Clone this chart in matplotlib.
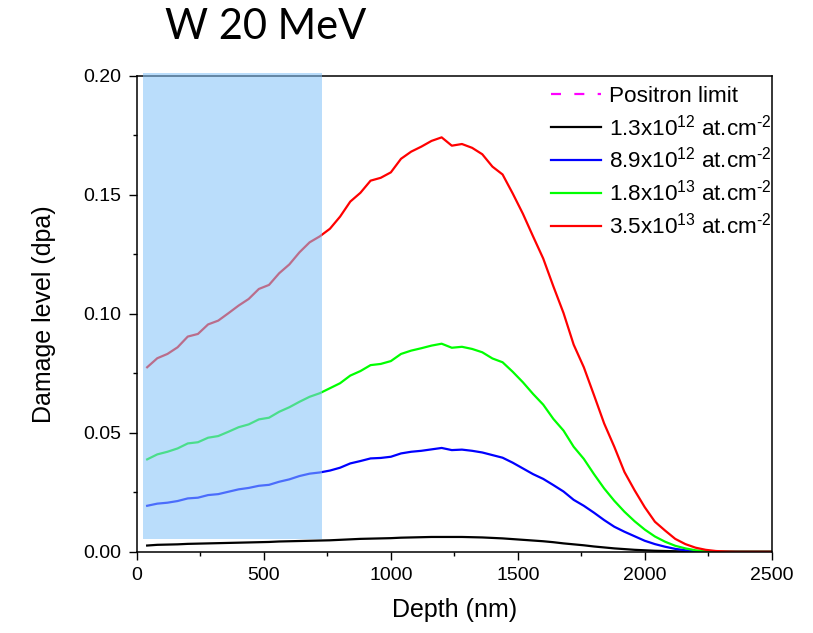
import matplotlib
matplotlib.use("Agg")
import matplotlib.pyplot as plt
from matplotlib.patches import Rectangle
from matplotlib.lines import Line2D
from matplotlib.ticker import MultipleLocator, FormatStrFormatter

plt.rcParams['font.family'] = ['Liberation Sans', 'DejaVu Sans']
plt.rcParams['mathtext.fontset'] = 'custom'
plt.rcParams['mathtext.rm'] = 'Liberation Sans'
plt.rcParams['mathtext.it'] = 'Liberation Sans:italic'
plt.rcParams['mathtext.bf'] = 'Liberation Sans:bold'

title = "W 20 MeV"
x_label = "Depth (nm)"
y_label = "Damage level (dpa)"

depth = [40, 80, 120, 160, 200, 240, 280, 320, 360, 400,
         440, 480, 520, 560, 600, 640, 680, 720, 760, 800,
         840, 880, 920, 960, 1000, 1040, 1080, 1120, 1160, 1200,
         1240, 1280, 1320, 1360, 1400, 1440, 1480, 1520, 1560, 1600,
         1640, 1680, 1720, 1760, 1800, 1840, 1880, 1920, 1960, 2000,
         2040, 2080, 2120, 2160, 2200, 2240, 2280, 2320, 2360, 2400,
         2440, 2480, 2500]

dpa_1_3e12 = [0.0026, 0.0029, 0.0030, 0.0031, 0.0033, 0.0034, 0.0035, 0.0036, 0.0037, 0.0038,
              0.0039, 0.0040, 0.0041, 0.0043, 0.0044, 0.0045, 0.0046, 0.0047, 0.0048, 0.0050,
              0.0052, 0.0054, 0.0055, 0.0056, 0.0057, 0.0059, 0.0060, 0.0061, 0.0062, 0.0062,
              0.0062, 0.0062, 0.0061, 0.0060, 0.0058, 0.0056, 0.0053, 0.0050, 0.0047, 0.0044,
              0.0040, 0.0035, 0.0031, 0.0027, 0.0022, 0.0018, 0.0014, 0.0011, 0.0008, 0.0006,
              0.0004, 0.0003, 0.0002, 0.0001, 0.0001, 0.0, 0.0, 0.0, 0.0, 0.0,
              0.0, 0.0, 0.0]

dpa_8_9e12 = [0.0193, 0.0202, 0.0206, 0.0213, 0.0224, 0.0227, 0.0238, 0.0242, 0.0252, 0.0262,
              0.0268, 0.0277, 0.0281, 0.0294, 0.0304, 0.0318, 0.0328, 0.0333, 0.0341, 0.0353,
              0.0371, 0.0381, 0.0392, 0.0394, 0.0399, 0.0413, 0.0420, 0.0424, 0.0430, 0.0436,
              0.0427, 0.0429, 0.0424, 0.0417, 0.0406, 0.0395, 0.0374, 0.0350, 0.0326, 0.0306,
              0.0280, 0.0253, 0.0218, 0.0193, 0.0164, 0.0133, 0.0105, 0.0084, 0.0065, 0.0046,
              0.0032, 0.0021, 0.0012, 0.0006, 0.0002, 0.0001, 0.0, 0.0, 0.0, 0.0,
              0.0, 0.0, 0.0]

dpa_1_8e13 = [0.0388, 0.0409, 0.0420, 0.0434, 0.0455, 0.0460, 0.0479, 0.0486, 0.0504, 0.0523,
              0.0535, 0.0556, 0.0563, 0.0588, 0.0607, 0.0630, 0.0651, 0.0666, 0.0687, 0.0708,
              0.0740, 0.0759, 0.0784, 0.0789, 0.0801, 0.0831, 0.0845, 0.0855, 0.0866, 0.0874,
              0.0857, 0.0861, 0.0852, 0.0838, 0.0812, 0.0796, 0.0756, 0.0712, 0.0663, 0.0618,
              0.0558, 0.0509, 0.0441, 0.0390, 0.0326, 0.0266, 0.0214, 0.0168, 0.0128, 0.0093,
              0.0064, 0.0042, 0.0025, 0.0014, 0.0006, 0.0002, 0.0001, 0.0, 0.0, 0.0,
              0.0, 0.0, 0.0]

dpa_3_5e13 = [0.0775, 0.0813, 0.0831, 0.0859, 0.0904, 0.0915, 0.0955, 0.0971, 0.1002, 0.1034,
              0.1062, 0.1104, 0.1121, 0.1170, 0.1207, 0.1258, 0.1300, 0.1325, 0.1357, 0.1408,
              0.1471, 0.1508, 0.1559, 0.1571, 0.1594, 0.1651, 0.1681, 0.1702, 0.1726, 0.1741,
              0.1706, 0.1713, 0.1697, 0.1670, 0.1618, 0.1585, 0.1505, 0.1420, 0.1325, 0.1232,
              0.1115, 0.1003, 0.0870, 0.0775, 0.0658, 0.0539, 0.0441, 0.0335, 0.0258, 0.0187,
              0.0126, 0.0089, 0.0054, 0.0032, 0.0017, 0.0008, 0.0003, 0.0001, 0.0, 0.0,
              0.0, 0.0, 0.0]

series_labels = [r"1.3x10$^{12}$ at.cm$^{\text{-}2}$",
                 r"8.9x10$^{12}$ at.cm$^{\text{-}2}$",
                 r"1.8x10$^{13}$ at.cm$^{\text{-}2}$",
                 r"3.5x10$^{13}$ at.cm$^{\text{-}2}$"]
series_values = [dpa_1_3e12, dpa_8_9e12, dpa_1_8e13, dpa_3_5e13]
series_colors = ["#000000", "#0000FF", "#00FF00", "#FF0000"]

limit_label = "Positron limit"
shade_x = [25, 728]
shade_y = [0.0053, 0.201]

fig = plt.figure(figsize=(8.13, 6.33), dpi=100)
ax = fig.add_axes([0.1685, 0.1284, 0.7807, 0.7520])

handles = []
h_lim = Line2D([], [], color="#FF00FF", lw=1.6, linestyle=(0, (4.5, 6)))
handles.append(h_lim)
for vals, col, lab in zip(series_values, series_colors, series_labels):
    ln, = ax.plot(depth, vals, color=col, lw=1.6, zorder=2, label=lab)
    handles.append(ln)

rect = Rectangle((shade_x[0], shade_y[0]), shade_x[1] - shade_x[0], shade_y[1] - shade_y[0],
                 facecolor=(134/255, 195/255, 248/255), alpha=0.565, edgecolor='none',
                 zorder=3, clip_on=False)
ax.add_patch(rect)

ax.set_xlim(0, 2500)
ax.set_ylim(0, 0.20)
ax.xaxis.set_major_locator(MultipleLocator(500))
ax.xaxis.set_minor_locator(MultipleLocator(250))
ax.yaxis.set_major_locator(MultipleLocator(0.05))
ax.yaxis.set_minor_locator(MultipleLocator(0.025))
ax.yaxis.set_major_formatter(FormatStrFormatter('%.2f'))
ax.tick_params(which='major', direction='out', length=6, width=1.0, labelsize=14, pad=5,
               top=False, right=False)
ax.tick_params(which='minor', direction='out', length=3, width=1.0, top=False, right=False)
for sp in ax.spines.values():
    sp.set_linewidth(1.1)

ax.set_xlabel(x_label, fontsize=18, labelpad=10)
ax.set_ylabel(y_label, fontsize=18, labelpad=20)

leg = ax.legend(handles, [limit_label] + series_labels, loc='upper right',
                bbox_to_anchor=(1.0, 0.978), frameon=False, fontsize=16.2,
                borderaxespad=0.0, borderpad=0.0, handlelength=2.25,
                handletextpad=0.35, labelspacing=0.31)
leg.set_zorder(5)

fig.text(266/813, 1 - 39/633, title, fontsize=30, family='Lato', ha='center',
         va='baseline')

fig.savefig("out.png", dpi=100)
